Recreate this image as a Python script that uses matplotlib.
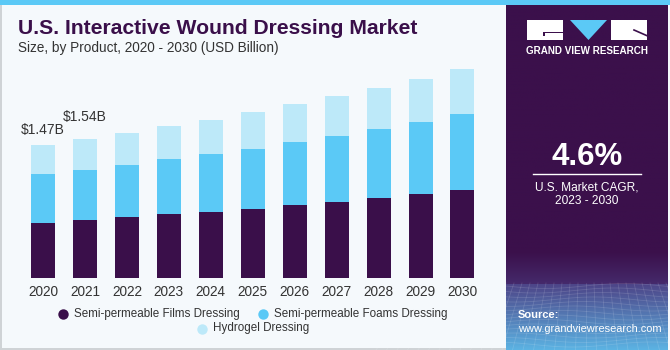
import numpy as np
import matplotlib
matplotlib.use("Agg")
import matplotlib.pyplot as plt
from matplotlib.patches import Rectangle, Polygon

# ---- data (USD Billion) ----
years = ["2020", "2021", "2022", "2023", "2024", "2025",
         "2026", "2027", "2028", "2029", "2030"]
films = [0.611, 0.641, 0.671, 0.704, 0.733, 0.766, 0.807, 0.843, 0.887, 0.928, 0.972]
foams = [0.538, 0.556, 0.578, 0.611, 0.637, 0.663, 0.700, 0.729, 0.762, 0.799, 0.835]
hydrogel = [0.321, 0.343, 0.350, 0.365, 0.376, 0.405, 0.416, 0.439, 0.450, 0.472, 0.497]
series_names = ["Semi-permeable Films Dressing", "Semi-permeable Foams Dressing",
                "Hydrogel Dressing"]
series_colors = ["#3a0f4a", "#5bc9f6", "#bde9f9"]
value_labels = {0: "$1.47B", 1: "$1.54B"}
cagr_text = "4.6%"

REG = ["Liberation Sans"]

W, H = 670, 350
fig = plt.figure(figsize=(W / 100, H / 100), dpi=100)
fig.patch.set_facecolor("#f5f9fc")

def fx(px):
    return px / W

def fy(py):
    return 1 - py / H

# background layer in pixel coordinates
bg = fig.add_axes([0, 0, 1, 1])
bg.axis("off")
bg.add_patch(Rectangle((0, 0), W, 5, color="#5bc9f6", lw=0))
bg.add_patch(Rectangle((0, 5), 2, H, color="#cfd3d6", lw=0))
bg.add_patch(Rectangle((0, H - 2), 506, 2, color="#cfd3d6", lw=0))

# right side panel with gradient towards the bottom
panel_top = np.array([0x3b, 0x10, 0x4b]) / 255
grad = np.zeros((H, 1, 3))
for i in range(H):
    if i < 250:
        grad[i, 0] = panel_top
    elif i < 283:
        t = (i - 250) / 33
        grad[i, 0] = panel_top * (1 - t) + np.array([0x45, 0x2a, 0x6c]) / 255 * t
    else:
        t = (i - 283) / (H - 283)
        c0 = np.array([0x4d, 0x45, 0x88]) / 255
        c1 = np.array([0x5c, 0xb4, 0xe4]) / 255
        grad[i, 0] = c0 * (1 - t) + c1 * t
bg.imshow(grad, extent=(506, 668, H, 5), aspect="auto", zorder=1)
# faint mesh on the lower part of the panel
for k in range(14):
    xs = np.linspace(506, 668, 40)
    ys = 286 + k * 4.5 + 2.5 * np.sin((xs - 506) / 25 + k * 0.4)
    bg.plot(xs, ys, color="white", alpha=0.13, lw=0.6, zorder=2)
for k in range(-10, 30):
    x0 = 506 + k * 8
    bg.plot([x0, x0 + (k - 10) * 2.5], [283, H], color="white", alpha=0.13, lw=0.6, zorder=2)
bg.set_xlim(0, W)
bg.set_ylim(H, 0)

# logo
bg.add_patch(Rectangle((527, 20), 36, 20, color="white", lw=0, zorder=3))
bg.add_patch(Rectangle((543, 31.5), 20, 1.6, color="#3b104b", lw=0, zorder=4))
bg.add_patch(Rectangle((543, 31.5), 1.6, 4.5, color="#3b104b", lw=0, zorder=4))
bg.add_patch(Polygon([(570, 20), (607, 20), (588.5, 40)], closed=True,
                     color="#5bc9f6", lw=0, zorder=3))
bg.add_patch(Rectangle((611, 20), 36, 20, color="white", lw=0, zorder=3))
bg.plot([634, 647], [30, 35.7], color="#3b104b", lw=1.2, zorder=4)
bg.text(587, 51, "GRAND VIEW RESEARCH", color="white", fontsize=7.1,
        fontweight="bold", ha="center", va="center", family=REG, zorder=5)

# CAGR block
bg.text(587, 157, cagr_text, color="white", fontsize=22.5, fontweight="bold",
        ha="center", va="center", family=REG, zorder=5)
bg.plot([533, 641], [173.5, 173.5], color="white", lw=1, zorder=5)
bg.text(587, 187, "U.S. Market CAGR,", color="white", fontsize=8.6,
        ha="center", va="center", family=REG, zorder=5)
bg.text(587, 201, "2023 - 2030", color="white", fontsize=8.6,
        ha="center", va="center", family=REG, zorder=5)
bg.text(518, 315, "Source:", color="white", fontsize=8, fontweight="bold",
        ha="left", va="center", family=REG, zorder=5)
bg.text(518, 329, "www.grandviewresearch.com", color="white", fontsize=7.9,
        ha="left", va="center", family=REG, zorder=5)

# titles
bg.text(18, 28.5, "U.S. Interactive Wound Dressing Market", color="#3a0f4a",
        fontsize=15.2, fontweight="bold", ha="left", va="center", family=REG)
bg.text(18, 48, "Size, by Product, 2020 - 2030 (USD Billion)", color="#333333",
        fontsize=9.8, ha="left", va="center", family=REG)

# bar chart
step = 41.95
left_px, right_px = 0, 506
top_px, base_px = 60, 278
scale = 90.5
ax = fig.add_axes([fx(left_px), fy(base_px), fx(right_px - left_px),
                   (base_px - top_px) / H])
ax.set_facecolor("none")
x = np.arange(len(years))
ax.set_xlim(-43 / step, (right_px - 43) / step)
ax.set_ylim(0, (base_px - top_px) / scale)
bw = 24 / step
films_a = np.array(films)
foams_a = np.array(foams)
hyd_a = np.array(hydrogel)
ax.bar(x, films_a, width=bw, color=series_colors[0], lw=0)
ax.bar(x, foams_a, width=bw, bottom=films_a, color=series_colors[1], lw=0)
ax.bar(x, hyd_a, width=bw, bottom=films_a + foams_a, color=series_colors[2], lw=0)
totals = films_a + foams_a + hyd_a
offsets = {0: 0.16, 1: 0.235}
for i, lab in value_labels.items():
    ax.text(x[i], totals[i] + offsets[i], lab, ha="center", va="center",
            fontsize=10, color="#333333", family=REG)
ax.set_xticks(x)
ax.set_xticklabels(years, fontsize=9.8, color="#333333", family=REG)
ax.tick_params(axis="x", length=0, pad=5)
ax.set_yticks([])
for s in ax.spines.values():
    s.set_visible(False)

# legend as a centred flow layout
legend_items = [(63, 313.5, 0), (263, 313.5, 1), (202, 328.5, 2)]
for mx, my, idx in legend_items:
    bg.plot(mx, my, "o", ms=7.5, color=series_colors[idx], mec="none", zorder=5)
    bg.text(mx + 11, my, series_names[idx], ha="left", va="center",
            fontsize=8.4, color="#333333", family=REG, zorder=5)

fig.savefig("out.png", dpi=100, facecolor=fig.get_facecolor())
